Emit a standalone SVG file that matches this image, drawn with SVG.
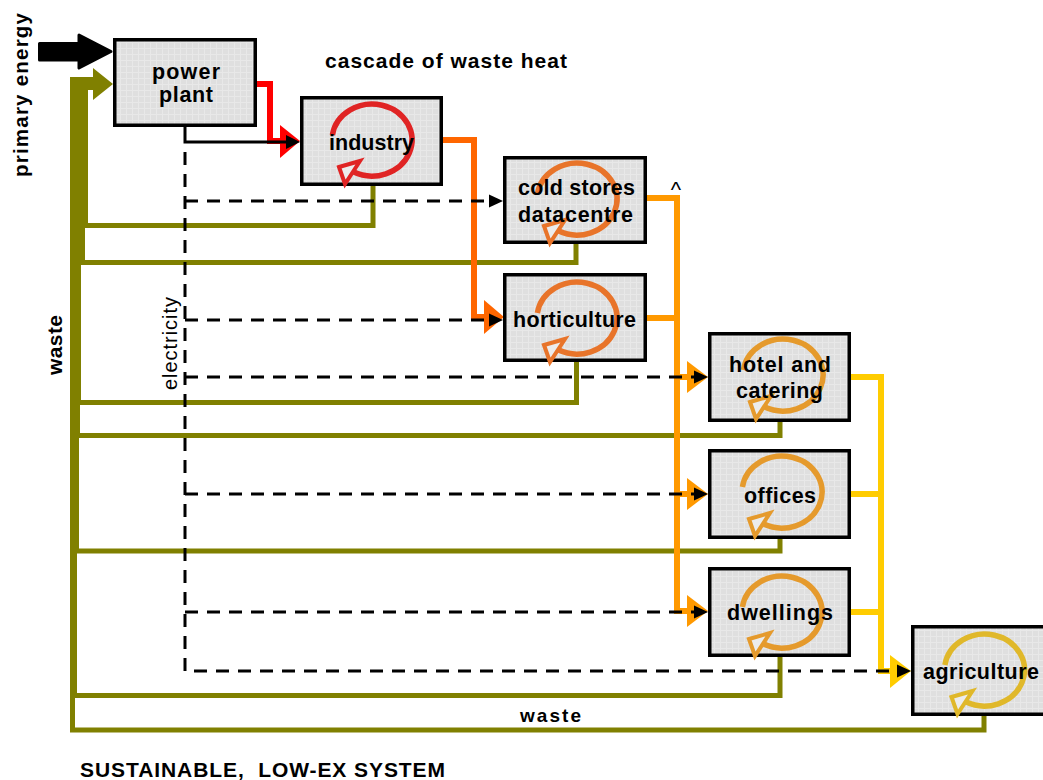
<svg xmlns="http://www.w3.org/2000/svg" xmlns:xlink="http://www.w3.org/1999/xlink" width="1043" height="780" viewBox="0 0 1043 780">
<style>
.box{fill:url(#grid);stroke:#000;stroke-width:3.5}
.lbl{font-family:"Liberation Sans",Arial,sans-serif;font-weight:bold;font-size:21.5px;fill:#000;text-anchor:middle}
.waste{fill:none;stroke:#808000;stroke-width:5;stroke-linejoin:miter}
.elec{fill:none;stroke:#000;stroke-width:3;stroke-dasharray:13 9}
.heat{fill:none;stroke-width:6;stroke-linejoin:miter}
</style>
<defs>
<pattern id="grid" width="6" height="6" patternUnits="userSpaceOnUse">
<rect width="6" height="6" fill="#dfdfdf"/>
<path d="M0,0.5H6M0.5,0V6" stroke="#e8e8e8" stroke-width="1"/>
</pattern>
<g id="cycle">
<path d="M-39.6,-5 A40,36 0 1 1 -18.8,31.8" fill="none" stroke="currentColor" stroke-width="5.5"/>
<polygon points="-33,27 -12,21 -27,44" fill="#ececec" stroke="currentColor" stroke-width="4" stroke-linejoin="miter"/>
</g>
</defs>
<rect width="1043" height="780" fill="#fff"/>

<g id="connectors">
<path class="waste" d="M984,716 V730 H72.5 V77"/>
<path class="waste" d="M780,657 V695.5 H74.5 V77"/>
<path class="waste" d="M780,539 V551 H76.5 V77"/>
<path class="waste" d="M780,422 V435.5 H77.5 V77"/>
<path class="waste" d="M576.5,362 V402.5 H78.5 V77"/>
<path class="waste" d="M576,244 V262.5 H82.5 V77"/>
<path class="waste" d="M373,186 V225.5 H85.5 V77"/>
<polygon points="70,77 93,77 93,68 113,84 93,100 93,90 70,90" fill="#808000"/>
<polygon points="39.5,43.5 79,43.5 79,35 111,51.5 79,68 79,60 39.5,60" fill="#000" stroke="#000" stroke-width="3" stroke-linejoin="round"/>
<path class="heat" stroke="#ff0000" d="M257,84 H270 V141 H284"/>
<polygon points="280,125 300,141 280,158" fill="#ff0000"/>
<path class="heat" stroke="#ff6600" d="M443,140 H474 V317 H486"/>
<polygon points="484,300 504,317 484,334" fill="#ff6600"/>
<path class="heat" stroke="#ff9900" d="M647,198 H677 V611 H689 M647,318 H677 M677,377 H689 M677,494 H689"/>
<polygon points="687,361 708,377 687,393" fill="#ff9900"/>
<polygon points="687,478 708,494 687,510" fill="#ff9900"/>
<polygon points="687,595 708,611 687,627" fill="#ff9900"/>
<path class="heat" stroke="#ffcc00" d="M851,377 H881 V671 H893 M851,494 H881 M851,612 H881"/>
<polygon points="890,655 911,671 890,688" fill="#ffcc00"/>
<path d="M185,127 V142 H287" fill="none" stroke="#000" stroke-width="3"/>
<polygon points="286,135 300,142 286,149" fill="#000"/>
<path class="elec" d="M185,152 V671 H898"/>
<path class="elec" d="M185,201 H490"/>
<path class="elec" d="M185,320 H490"/>
<path class="elec" d="M185,377 H695"/>
<path class="elec" d="M185,494 H695"/>
<path class="elec" d="M185,612 H695"/>
<polygon points="489,194.5 503,201 489,207.5" fill="#000"/>
<polygon points="489,313.5 503,320 489,326.5" fill="#000"/>
<polygon points="694,370.5 708,377 694,383.5" fill="#000"/>
<polygon points="694,487.5 708,494 694,500.5" fill="#000"/>
<polygon points="694,605.5 708,612 694,618.5" fill="#000"/>
<polygon points="897,664.5 911,671 897,677.5" fill="#000"/>
</g>

<g id="power-plant">
<rect class="box" x="114.75" y="39.75" width="140.5" height="85.5"/>
<text class="lbl" x="186" y="79" textLength="68" lengthAdjust="spacing">power</text>
<text class="lbl" x="186" y="102" textLength="54" lengthAdjust="spacing">plant</text>
</g>
<g id="industry">
<rect class="box" x="301.75" y="97.75" width="139.5" height="86.5"/>
<use xlink:href="#cycle" transform="translate(372,140)" color="#e02424"/>
<text class="lbl" x="371.5" y="150" textLength="85" lengthAdjust="spacing">industry</text>
</g>
<g id="cold-stores">
<rect class="box" x="504.75" y="157.75" width="140.5" height="84.5"/>
<use xlink:href="#cycle" transform="translate(577,199)" color="#e8742a"/>
<text class="lbl" x="576.5" y="195" textLength="117" lengthAdjust="spacing">cold stores</text>
<text class="lbl" x="575.5" y="222" textLength="115" lengthAdjust="spacing">datacentre</text>
</g>
<g id="horticulture">
<rect class="box" x="504.75" y="274.75" width="140.5" height="85.5"/>
<use xlink:href="#cycle" transform="translate(577,318)" color="#e8742a"/>
<text class="lbl" x="574.5" y="327" textLength="123" lengthAdjust="spacing">horticulture</text>
</g>
<g id="hotel-catering">
<rect class="box" x="709.75" y="333.75" width="139.5" height="86.5"/>
<use xlink:href="#cycle" transform="translate(783,375)" color="#e59a2c"/>
<text class="lbl" x="780" y="372" textLength="102" lengthAdjust="spacing">hotel and</text>
<text class="lbl" x="779.5" y="398" textLength="87" lengthAdjust="spacing">catering</text>
</g>
<g id="offices">
<rect class="box" x="709.75" y="450.75" width="139.5" height="86.5"/>
<use xlink:href="#cycle" transform="translate(782,492)" color="#e59a2c"/>
<text class="lbl" x="780" y="503" textLength="72" lengthAdjust="spacing">offices</text>
</g>
<g id="dwellings">
<rect class="box" x="709.75" y="568.75" width="139.5" height="86.5"/>
<use xlink:href="#cycle" transform="translate(782,612)" color="#e59a2c"/>
<text class="lbl" x="780" y="620" textLength="106" lengthAdjust="spacing">dwellings</text>
</g>
<g id="agriculture">
<rect class="box" x="912.75" y="626.75" width="140.5" height="87.5"/>
<use xlink:href="#cycle" transform="translate(984.5,670)" color="#e0b82a"/>
<text class="lbl" x="981" y="679" textLength="116" lengthAdjust="spacing">agriculture</text>
</g>

<g id="labels">
<text class="lbl" transform="rotate(-90 27.5 95)" x="27.5" y="95" style="font-size:20.5px" textLength="164" lengthAdjust="spacing">primary energy</text>
<text class="lbl" x="325" y="68" style="text-anchor:start;font-size:21px" textLength="242" lengthAdjust="spacing">cascade of waste heat</text>
<text class="lbl" transform="rotate(-90 61.5 345)" x="61.5" y="345" style="font-size:21px" textLength="60" lengthAdjust="spacing">waste</text>
<text class="lbl" transform="rotate(-90 176.5 343.5)" x="176.5" y="343.5" style="font-weight:normal;font-size:20px" textLength="93" lengthAdjust="spacing">electricity</text>
<text class="lbl" x="676" y="197" style="font-weight:normal;font-size:22px">^</text>
<text class="lbl" x="550.5" y="722" style="font-size:19px" textLength="61" lengthAdjust="spacing">waste</text>
<text class="lbl" x="80" y="777" xml:space="preserve" style="text-anchor:start;font-size:21px" textLength="365" lengthAdjust="spacing">SUSTAINABLE,  LOW-EX SYSTEM</text>
</g>
</svg>
